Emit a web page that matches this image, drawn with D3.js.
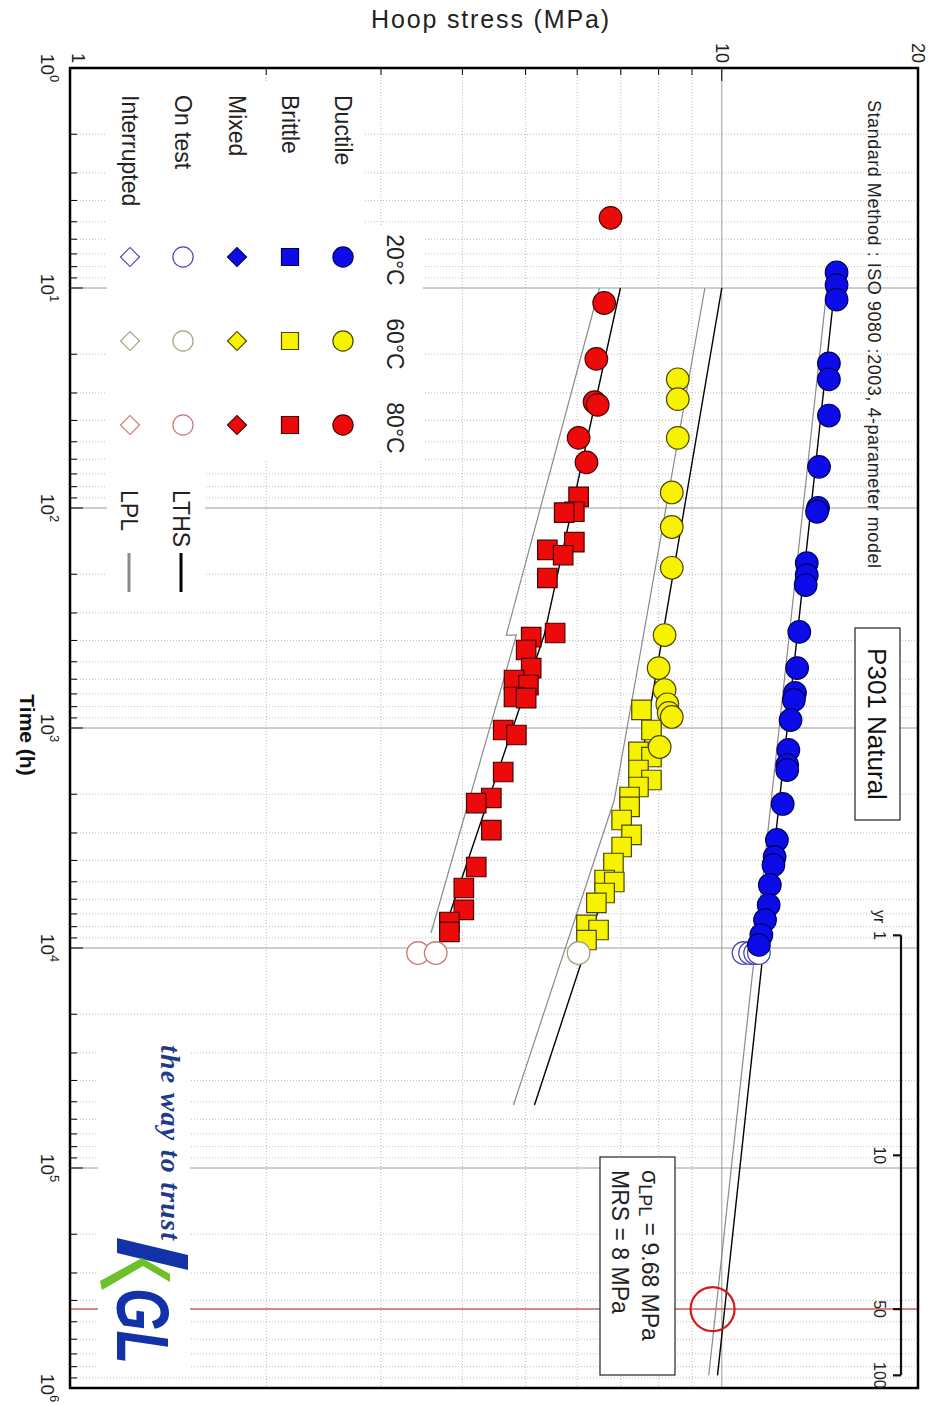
<!DOCTYPE html>
<html>
<head>
<meta charset="utf-8">
<script src="https://cdn.jsdelivr.net/npm/d3@7"></script>
<style>
  body { margin: 0; background: #fff; }
  svg { display: block; font-family: "Liberation Sans", Arial, sans-serif; }
  .dot { stroke: #bcbcbc; stroke-width: 1; stroke-dasharray: 1 2; }
  .major { stroke: #9c9c9c; stroke-width: 1; }
  .tick { stroke: #000; stroke-width: 1; }
</style>
</head>
<body>
<svg id="chart" width="938" height="1405"></svg>
<script>
// time (h), hoop stress (MPa)
const blue20Ductile = [
  [8.5, 15.0], [9.7, 15.0], [11.3, 15.0], [22, 14.6], [26, 14.6], [38, 14.6],
  [65, 14.1], [100, 14.05], [104, 14.0], [178, 13.5], [202, 13.5], [224, 13.45],
  [366, 13.15], [534, 13.05], [693, 12.95], [746, 12.9], [920, 12.75], [1259, 12.65],
  [1473, 12.6], [1552, 12.6], [2215, 12.4], [3229, 12.15], [3857, 12.05], [4194, 12.0],
  [5171, 11.85], [6378, 11.8], [7459, 11.65], [8730, 11.5], [9687, 11.4]
];
const blue20OnTest = [[10540, 10.8], [10540, 11.05], [10540, 11.25], [10540, 11.4]];

const yellow60Ductile = [
  [26, 8.56], [32, 8.56], [48, 8.56], [85, 8.38], [122, 8.38], [187, 8.38],
  [378, 8.17], [534, 8.0], [672, 8.17], [780, 8.25], [854, 8.29], [891, 8.38], [1220, 8.03]
];
const yellow60Brittle = [
  [828, 7.53], [1021, 7.8], [1285, 7.45], [1355, 7.8], [1552, 7.45], [1723, 7.8],
  [1854, 7.45], [2059, 7.22], [2285, 7.22], [2619, 7.02], [3063, 7.27], [3474, 7.02],
  [4108, 6.82], [4909, 6.61], [5012, 6.84], [5623, 6.61], [6238, 6.42], [7858, 6.2],
  [8283, 6.47], [9199, 6.2]
];
const yellow60OnTest = [[10540, 6.03]];

const red80Ductile = [[4.8, 6.75], [11.7, 6.6], [21, 6.42], [33, 6.38], [34, 6.45], [48, 6.03], [62, 6.2]];
const red80Brittle = [
  [89, 6.03], [104, 5.94], [105, 5.73], [143, 5.94], [155, 5.4], [164, 5.71], [208, 5.4],
  [370, 5.55], [386, 5.1], [442, 5.01], [534, 5.1], [605, 4.8], [638, 5.05], [723, 4.8],
  [731, 5.01], [1021, 4.62], [1076, 4.84], [1585, 4.62], [2080, 4.43], [2193, 4.2],
  [2910, 4.43], [4284, 4.2], [5337, 4.02], [6714, 4.02], [7618, 3.82], [8455, 3.82]
];
const red80OnTest = [[10540, 3.42], [10540, 3.64]];

// fitted lines (LTHS black, LPL grey)
const blueLTHS = [[10, 14.9], [876000, 9.85]];
const blueLPL = [[10, 14.5], [876000, 9.55]];
const yellowLTHS = [[10, 10.0], [2125, 7.35], [51700, 5.16]];
const yellowLPL = [[10, 9.42], [2125, 6.84], [51700, 4.79]];
const redLTHS = [[10, 6.99], [378, 5.34], [8730, 3.73]];
const redLPL = [[10, 6.49], [378, 4.67], [378, 4.84], [8550, 3.58]];

const timeLabels = [0, 1, 2, 3, 4, 5, 6];       // exponents of 10
const stressLabels = [1, 10, 20];
const yearMarks = [1, 10, 50, 100];
const legendRows = ["Ductile", "Brittle", "Mixed", "On test", "Interrupted"];
const legendTemps = ["20°C", "60°C", "80°C"];
const sigmaLPL = 9.68, designYears = 50;

const W = 938;
const svg = d3.select("#chart");
// chart is drawn lying down, then turned a quarter turn clockwise
const g = svg.append("g").attr("transform", `translate(${W},0) rotate(90)`);

const pLeft = 68, pRight = 1388, pTop = 20, pBottom = 868;
const x = d3.scaleLog().domain([1, 1e6]).range([pLeft, pRight]);
const y = d3.scaleLog().domain([1, 20]).range([pBottom, pTop]);

// grid
const timeMinor = [];
for (let k = 0; k < 6; k++) for (let m = 2; m <= 9; m++) timeMinor.push(m * Math.pow(10, k));
const stressMinor = [2, 3, 4, 5, 6, 7, 8, 9];

const grid = g.append("g");
timeMinor.forEach(t => {
  grid.append("line").attr("class", "dot")
    .attr("x1", x(t)).attr("x2", x(t)).attr("y1", pTop).attr("y2", pBottom);
});
stressMinor.forEach(s => {
  grid.append("line").attr("class", "dot")
    .attr("x1", pLeft).attr("x2", pRight).attr("y1", y(s)).attr("y2", y(s));
});
[10, 100, 1e3, 1e4, 1e5].forEach(t => {
  grid.append("line").attr("class", "major")
    .attr("x1", x(t)).attr("x2", x(t)).attr("y1", pTop).attr("y2", pBottom);
});
grid.append("line").attr("class", "major")
  .attr("x1", pLeft).attr("x2", pRight).attr("y1", y(10)).attr("y2", y(10));

// 50 year line
const t50 = designYears * 8760;
g.append("line")
  .attr("x1", x(t50)).attr("x2", x(t50)).attr("y1", pTop).attr("y2", pBottom)
  .style("stroke", "#d05a5a").style("stroke-width", 1.5);

// white patches behind legend and logo
const patches = [
  [82, 573, 378, 258], [225, 515, 235, 58], [460, 733, 140, 98], [1040, 748, 330, 92]
];
patches.forEach(p => {
  g.append("rect").attr("x", p[0]).attr("y", p[1]).attr("width", p[2]).attr("height", p[3])
    .style("fill", "#fff");
});

// ticks
timeMinor.forEach(t => {
  g.append("line").attr("class", "tick")
    .attr("x1", x(t)).attr("x2", x(t)).attr("y1", pBottom).attr("y2", pBottom - 7);
});
[10, 100, 1e3, 1e4, 1e5].forEach(t => {
  g.append("line").attr("class", "tick")
    .attr("x1", x(t)).attr("x2", x(t)).attr("y1", pBottom).attr("y2", pBottom - 13);
});
stressMinor.forEach(s => {
  g.append("line").attr("class", "tick")
    .attr("x1", pLeft).attr("x2", pLeft + 7).attr("y1", y(s)).attr("y2", y(s));
});
g.append("line").attr("class", "tick")
  .attr("x1", pLeft).attr("x2", pLeft + 13).attr("y1", y(10)).attr("y2", y(10));

// fitted lines
const line = d3.line().x(d => x(d[0])).y(d => y(d[1]));
const fits = [
  [blueLPL, "#8a8a8a", 1.2], [blueLTHS, "#000", 1.4],
  [yellowLPL, "#8a8a8a", 1.2], [yellowLTHS, "#000", 1.4],
  [redLPL, "#8a8a8a", 1.2], [redLTHS, "#000", 1.4]
];
fits.forEach(f => {
  g.append("path").datum(f[0]).attr("d", line)
    .style("fill", "none").style("stroke", f[1]).style("stroke-width", f[2]);
});

// markers
const colors = {
  blue: { fill: "#0c0ce8", stroke: "#00005a", open: "#4848b8" },
  yellow: { fill: "#f6f200", stroke: "#4a4600", open: "#a4a47a" },
  red: { fill: "#ec0a0a", stroke: "#4a0000", open: "#c87878" }
};
const circle = d3.symbol(d3.symbolCircle, 400);
const square = d3.symbol(d3.symbolSquare, 380);

function drawPoints(data, shape, c, open) {
  g.append("g").selectAll("path").data(data).join("path")
    .attr("d", shape)
    .attr("transform", d => `translate(${x(d[0])},${y(d[1])})`)
    .style("fill", open ? "#fff" : c.fill)
    .style("stroke", open ? c.open : c.stroke)
    .style("stroke-width", open ? 1.3 : 1.2);
}
drawPoints(yellow60Brittle, square, colors.yellow, false);
drawPoints(yellow60Ductile, circle, colors.yellow, false);
drawPoints(yellow60OnTest, circle, colors.yellow, true);
drawPoints(red80Brittle, square, colors.red, false);
drawPoints(red80Ductile, circle, colors.red, false);
drawPoints(red80OnTest, circle, colors.red, true);
drawPoints(blue20OnTest, circle, colors.blue, true);
drawPoints(blue20Ductile, circle, colors.blue, false);

// LPL at 50 years
g.append("circle")
  .attr("cx", x(t50)).attr("cy", y(sigmaLPL)).attr("r", 22)
  .style("fill", "none").style("stroke", "#d01c1c").style("stroke-width", 2.2);

// legend
const rowV = [595, 648, 701, 755, 808];
const colU = [257, 341, 425];
const legend = g.append("g");
legendRows.forEach((r, i) => {
  legend.append("text").attr("x", 95).attr("y", rowV[i] + 8)
    .style("font-size", "23px").style("fill", "#222").text(r);
});
legendTemps.forEach((tmp, j) => {
  legend.append("text").attr("x", colU[j] + 3).attr("y", 551)
    .attr("text-anchor", "middle").style("font-size", "23px").style("fill", "#222").text(tmp);
});
const legendColors = [colors.blue, colors.yellow, colors.red];
const lgCircle = d3.symbol(d3.symbolCircle, 320);
const lgSquare = d3.symbol(d3.symbolSquare, 290);
const lgDiamond = d3.symbol(d3.symbolSquare, 180);
legendColors.forEach((c, j) => {
  const u = colU[j];
  const shapes = [[lgCircle, false, 0], [lgSquare, false, 0], [lgDiamond, false, 45], [lgCircle, true, 0], [lgDiamond, true, 45]];
  shapes.forEach((s, i) => {
    legend.append("path").attr("d", s[0])
      .attr("transform", `translate(${u},${rowV[i]}) rotate(${s[2]})`)
      .style("fill", s[1] ? "#fff" : c.fill)
      .style("stroke", s[1] ? c.open : c.stroke)
      .style("stroke-width", 1.2);
  });
});
[["LTHS", 757, "#000"], ["LPL", 809, "#8a8a8a"]].forEach(d => {
  legend.append("text").attr("x", 490).attr("y", d[1] + 8)
    .style("font-size", "23px").style("fill", "#222").text(d[0]);
  legend.append("line").attr("x1", 553).attr("x2", 592).attr("y1", d[1]).attr("y2", d[1])
    .style("stroke", d[2]).style("stroke-width", 3);
});

// frame
g.append("rect").attr("x", pLeft).attr("y", pTop)
  .attr("width", pRight - pLeft).attr("height", pBottom - pTop)
  .style("fill", "none").style("stroke", "#000").style("stroke-width", 2.5);

// axis labels
const tl = g.append("g");
timeLabels.forEach(e => {
  const t = tl.append("text").attr("x", x(Math.pow(10, e))).attr("y", 897)
    .attr("text-anchor", "middle").style("font-size", "19px").style("fill", "#222");
  t.append("tspan").text("10");
  t.append("tspan").attr("dy", -9).style("font-size", "13px").text(e);
});
g.append("text").attr("x", 735).attr("y", 918).attr("text-anchor", "middle")
  .style("font-size", "21px").style("font-weight", "bold").style("fill", "#111").text("Time (h)");
stressLabels.forEach(s => {
  g.append("text").attr("x", 63).attr("y", y(s) + (s === 1 ? -2 : 6)).attr("text-anchor", "end")
    .style("font-size", "18px").style("fill", "#222").text(s);
});

// annotations
g.append("text").attr("x", 100).attr("y", 70).attr("textLength", 468)
  .style("font-size", "18px").style("fill", "#222")
  .text("Standard Method : ISO 9080 :2003, 4-parameter model");
g.append("rect").attr("x", 628).attr("y", 38).attr("width", 192).attr("height", 45)
  .style("fill", "#fff").style("stroke", "#222").style("stroke-width", 1.2);
g.append("text").attr("x", 724).attr("y", 70).attr("text-anchor", "middle")
  .style("font-size", "26px").style("fill", "#111").text("P301 Natural");

// year bar
const barV = 37;
g.append("line").attr("x1", x(8760)).attr("x2", x(876000)).attr("y1", barV).attr("y2", barV)
  .style("stroke", "#111").style("stroke-width", 2.2);
yearMarks.forEach(yr => {
  const u = x(yr * 8760);
  g.append("line").attr("x1", u).attr("x2", u).attr("y1", barV).attr("y2", barV + 8)
    .style("stroke", "#111").style("stroke-width", 2.2);
  g.append("text").attr("x", u).attr("y", 64).attr("text-anchor", "middle")
    .style("font-size", "16px").style("fill", "#222").text(yr);
});
g.append("text").attr("x", x(8760) - 12).attr("y", 64).attr("text-anchor", "end")
  .style("font-size", "16px").style("fill", "#222").text("yr");

// result box
g.append("rect").attr("x", 1157).attr("y", 263).attr("width", 218).attr("height", 75)
  .style("fill", "#fff").style("stroke", "#222").style("stroke-width", 1.2);
const r1 = g.append("text").attr("x", 1170).attr("y", 296).style("font-size", "23px").style("fill", "#222");
r1.append("tspan").text("σ");
r1.append("tspan").attr("dy", 3).style("font-size", "18px").text("LPL");
r1.append("tspan").attr("dy", -3).text(` = ${sigmaLPL} MPa`);
g.append("text").attr("x", 1170).attr("y", 326).style("font-size", "23px").style("fill", "#222")
  .text("MRS = 8 MPa");

// logo
g.append("text").attr("x", 1045).attr("y", 777).attr("textLength", 195)
  .style("font-family", "'Liberation Serif', serif").style("font-style", "italic")
  .style("font-weight", "bold").style("font-size", "28px").style("fill", "#1d3a8c")
  .text("the way to trust");
g.append("polygon").attr("points", "1238,821 1253,821 1270,750 1255,750").style("fill", "#1432a8");
g.append("polygon").attr("points", "1282,768 1266,795 1290,836 1281,838 1258,796 1274,768").style("fill", "#6cc028");
g.append("text").attr("x", 1288).attr("y", 821).attr("textLength", 76).attr("lengthAdjust", "spacingAndGlyphs")
  .style("font-size", "74px").style("font-weight", "bold").style("font-style", "italic")
  .style("fill", "#1432a8").text("GL");

// title across the top
svg.append("text").attr("x", 490).attr("y", 28).attr("text-anchor", "middle")
  .attr("textLength", 238)
  .style("font-size", "25px").style("fill", "#222").text("Hoop stress (MPa)");
</script>
</body>
</html>
